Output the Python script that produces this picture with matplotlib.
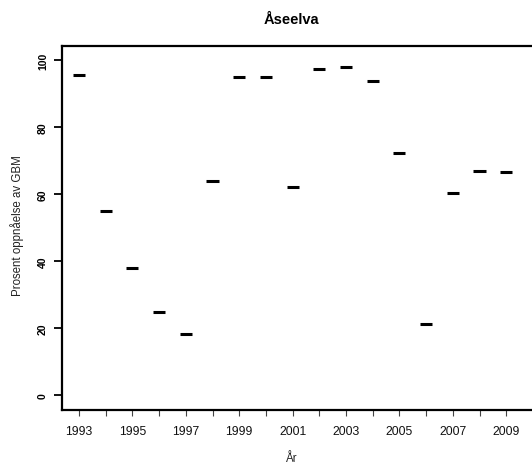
import matplotlib
matplotlib.use("Agg")
import matplotlib.pyplot as plt
import numpy as np

plt.rcParams['font.family'] = ['Liberation Sans', 'DejaVu Sans']

# data
years = np.arange(1993, 2010)
values = [95.7, 54.9, 37.9, 24.8, 18.3, 64.1, 95.0, 95.2, 62.3,
          97.5, 97.9, 93.9, 72.4, 21.2, 60.3, 66.9, 66.6]
ytick_vals = [0, 20, 40, 60, 80, 100]
xlabel_years = years[::2]

W, H = 532, 464
fig = plt.figure(figsize=(W / 100, H / 100), dpi=100)
left, right, top, bottom = 62, 532, 46.7, 411
ax = fig.add_axes([left / W, (H - bottom) / H, (right - left) / W, (bottom - top) / H])

# one short horizontal dash per year
ax.hlines(values, years - 0.225, years + 0.225, color='black', linewidth=2.2)

px_per_year = 26.7
ax.set_xlim(1993 - (79 - left) / px_per_year,
            1993 - (79 - left) / px_per_year + (right - left) / px_per_year)
ax.set_ylim(-4.4, 104.4)

for s in ['left', 'top', 'bottom']:
    ax.spines[s].set_linewidth(1.6)
ax.spines['right'].set_visible(False)

ax.set_xticks(years)
ax.set_xticklabels([str(y) if y in xlabel_years else '' for y in years], fontsize=8.8)
ax.tick_params(axis='x', length=4.5, width=0.8, color='#444444', pad=6, labelcolor='#111111')

ax.set_yticks(ytick_vals)
ax.set_yticklabels([str(v) for v in ytick_vals], fontsize=7.5, fontweight='bold',
                   rotation=90, va='center')
ax.tick_params(axis='y', length=6, width=1.3, pad=4)

fig.text(291.7 / W, (H - 20) / H, 'Åseelva', ha='center', va='center',
         fontsize=10.5, fontweight='bold')
fig.text(17 / W, (H - 226) / H, 'Prosent oppnåelse av GBM', ha='center', va='center',
         rotation=90, fontsize=8.3, color='#222222')
fig.text(292 / W, (H - 459) / H, 'År', ha='center', va='center', fontsize=8.3,
         color='#222222')

fig.savefig('out.png', dpi=100)
